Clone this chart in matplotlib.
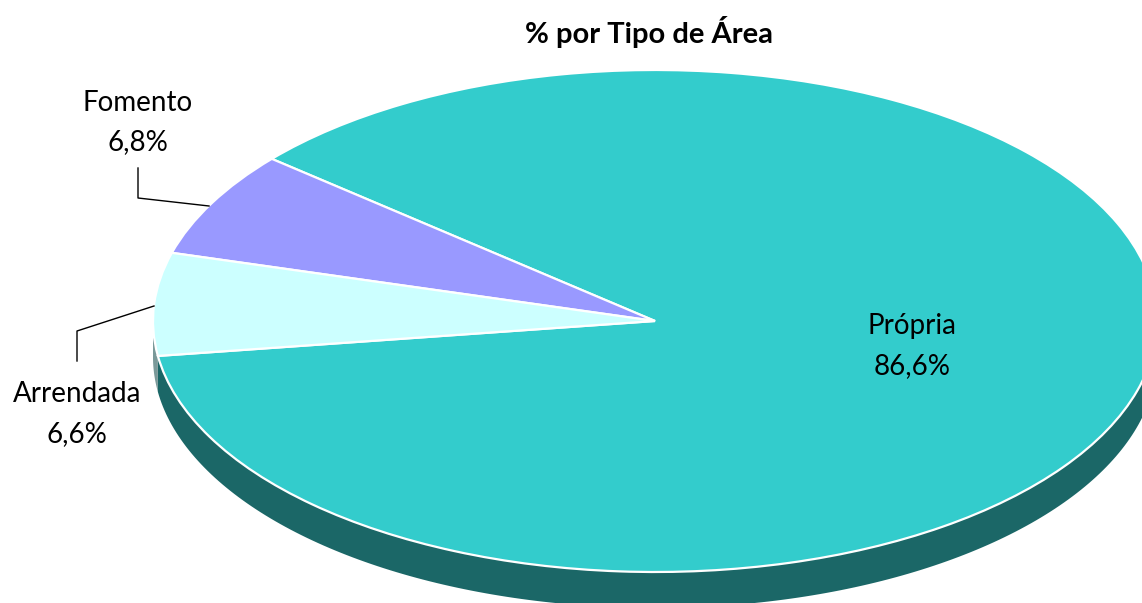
import matplotlib
matplotlib.use("Agg")
import matplotlib.pyplot as plt
import numpy as np
from matplotlib.patches import Polygon

# Data
categories = ["Própria", "Fomento", "Arrendada"]
values = [86.6, 6.8, 6.6]
label_texts = ["86,6%", "6,8%", "6,6%"]
colors = ["#33CCCC", "#9999FF", "#CCFFFF"]
side_colors = ["#1B6767", "#5C5C99", "#7A9999"]
title = "% por Tipo de Área"

W, H = 1142, 603
CX, CY, RX, RY = 655, 321, 502, 251
DEPTH = 36 / RY
START = -172.0

plt.rcParams['font.family'] = ['Lato', 'DejaVu Sans']

fig = plt.figure(figsize=(W / 100, H / 100), dpi=100)
ax = fig.add_axes([0, 0, 1, 1])

def px(x, y):
    return ((x - CX) / RX, (CY - y) / RY)

wedges, _ = ax.pie(values, colors=colors, startangle=START, counterclock=True,
                   wedgeprops=dict(edgecolor="white", linewidth=1.6),
                   radius=1.0, center=(0, 0))
for w in wedges:
    w.set_zorder(3)

# side (3D depth) for the front half
total = sum(values)
a0 = START
for v, sc in zip(values, side_colors):
    a1 = a0 + v / total * 360.0
    lo, hi = a0, a1
    segs = []
    for shift in (-360, 0, 360):
        s = max(lo + shift, 180)
        e = min(hi + shift, 360)
        if e > s:
            segs.append((s, e))
    for s, e in segs:
        t = np.radians(np.linspace(s, e, 200))
        top = np.column_stack([np.cos(t), np.sin(t)])
        bot = top[::-1] - np.array([0, DEPTH])
        ax.add_patch(Polygon(np.vstack([top, bot]), closed=True, facecolor=sc,
                             edgecolor="none", zorder=1))
    a0 = a1

ax.set_aspect("auto")
ax.set_xlim(px(0, 0)[0], px(W, 0)[0])
ax.set_ylim(px(0, H)[1], px(0, 0)[1])
ax.axis("off")

fs = 20
# labels
ax.text(*px(912, 346), f"{categories[0]}\n{label_texts[0]}", ha="center", va="center",
        fontsize=fs, linespacing=1.7, zorder=5)
ax.text(*px(138, 123), f"{categories[1]}\n{label_texts[1]}", ha="center", va="center",
        fontsize=fs, linespacing=1.62, zorder=5)
ax.text(*px(77, 414), f"{categories[2]}\n{label_texts[2]}", ha="center", va="center",
        fontsize=fs, linespacing=1.7, zorder=5)

# leader lines
for pts in ([(138, 168), (138, 198), (209, 206)], [(77, 361), (77, 331), (154, 306)]):
    xy = np.array([px(*p) for p in pts])
    ax.plot(xy[:, 0], xy[:, 1], color="black", linewidth=1.0, zorder=4)

ax.text(*px(649, 32), title, ha="center", va="center", fontsize=21,
        fontweight="bold", zorder=5)

fig.savefig("out.png", dpi=100)
